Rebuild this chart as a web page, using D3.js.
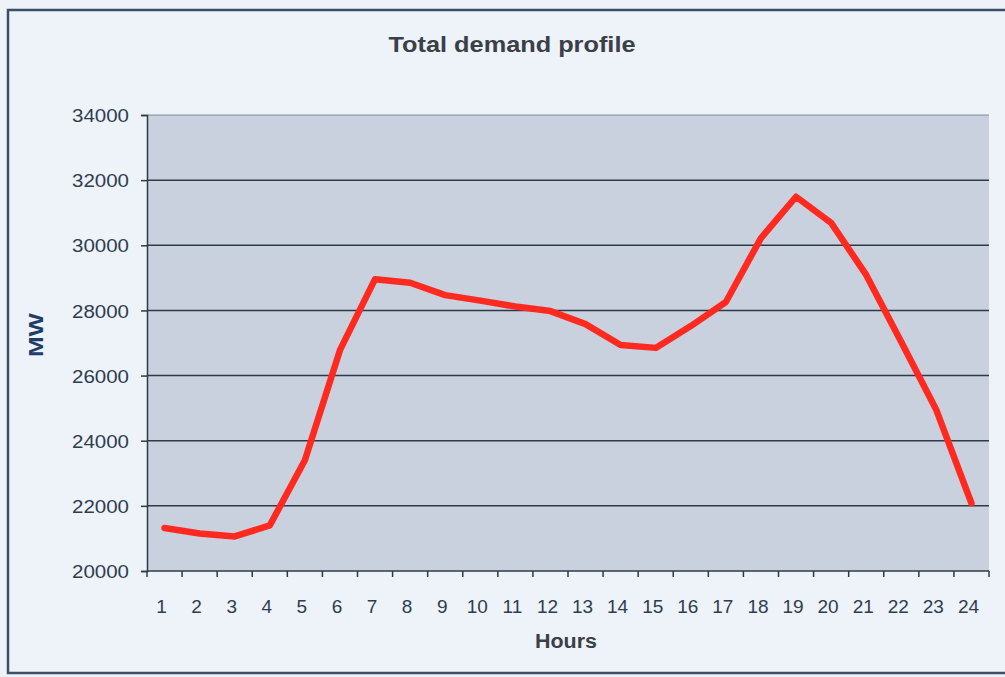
<!DOCTYPE html>
<html>
<head>
<meta charset="utf-8">
<script src="https://cdn.jsdelivr.net/npm/d3@7"></script>
<style>
  html, body { margin: 0; padding: 0; background: #eef2f9; }
  svg { display: block; font-family: "Liberation Sans", Arial, sans-serif; }
</style>
</head>
<body>
<div id="chart"></div>
<script>
const hours = d3.range(1, 25);
const demand = [21320, 21150, 21060, 21400, 23400, 26780, 28960, 28850, 28470, 28300, 28120, 27980,
  27580, 26940, 26850, 27520, 28260, 30220, 31490, 30690, 29090, 27030, 24940, 22080];
const yTicks = [20000, 22000, 24000, 26000, 28000, 30000, 32000, 34000];

const width = 1005, height = 677;
const margin = { top: 115, right: 16, bottom: 106, left: 147 };

const svg = d3.select("#chart").append("svg")
  .attr("width", width).attr("height", height)
  .attr("viewBox", [0, 0, width, height]);

// outer frame of the scanned chart
svg.append("path")
  .attr("d", `M${width},10 H8 V673 H${width}`)
  .attr("fill", "none").attr("stroke", "#3d4f66").attr("stroke-width", 2.5);

const x = d3.scaleBand().domain(hours).range([margin.left, width - margin.right]);
const y = d3.scaleLinear().domain([20000, 34000]).range([height - margin.bottom, margin.top]);

// plot background
svg.append("rect")
  .attr("x", x.range()[0]).attr("y", y(34000))
  .attr("width", x.range()[1] - x.range()[0]).attr("height", y(20000) - y(34000))
  .attr("fill", "#c9d1de");

// gridlines
svg.append("g")
  .selectAll("line")
  .data(yTicks.slice(1))
  .join("line")
  .attr("x1", x.range()[0]).attr("x2", x.range()[1])
  .attr("y1", (d) => y(d)).attr("y2", (d) => y(d))
  .attr("stroke", "#2f3a47").attr("stroke-width", 1.5)
  .attr("stroke-opacity", (d) => (d === 34000 ? 0.35 : 1));

// y axis
svg.append("g")
  .attr("transform", `translate(${margin.left},0)`)
  .call(d3.axisLeft(y).tickValues(yTicks).tickSize(6).tickPadding(12).tickFormat(d3.format("d")))
  .call((g) => g.select(".domain").attr("stroke", "#2f3a47").attr("stroke-width", 1.5))
  .call((g) => g.selectAll(".tick line").attr("stroke", "#2f3a47").attr("stroke-width", 1.5))
  .call((g) => g.selectAll(".tick text")
    .attr("font-size", 19).attr("fill", "#2e3d50").attr("dy", "0.35em")
    .attr("textLength", 57).attr("lengthAdjust", "spacingAndGlyphs"));

// x axis: ticks at band boundaries
const xAxisG = svg.append("g").attr("transform", `translate(0,${y(20000)})`);
xAxisG.append("line")
  .attr("x1", x.range()[0]).attr("x2", x.range()[1])
  .attr("stroke", "#2f3a47").attr("stroke-width", 1.5);
xAxisG.selectAll(".xtick")
  .data(hours.concat([25]))
  .join("line")
  .attr("class", "xtick")
  .attr("x1", (d) => (d === 25 ? x.range()[1] : x(d)))
  .attr("x2", (d) => (d === 25 ? x.range()[1] : x(d)))
  .attr("y1", 0).attr("y2", 6)
  .attr("stroke", "#2f3a47").attr("stroke-width", 1.5);
xAxisG.selectAll(".xlabel")
  .data(hours)
  .join("text")
  .attr("class", "xlabel")
  .attr("x", (d) => x(d) + x.bandwidth() / 2 - 3)
  .attr("y", 42)
  .attr("text-anchor", "middle")
  .attr("font-size", 19)
  .attr("fill", "#2e3d50")
  .text((d) => d);

// line
const line = d3.line()
  .x((d, i) => x(hours[i]) + x.bandwidth() / 2)
  .y((d) => y(d));

svg.append("path")
  .datum(demand)
  .attr("fill", "none")
  .attr("stroke", "#ff2a1f")
  .attr("stroke-width", 6.5)
  .attr("stroke-linejoin", "round")
  .attr("stroke-linecap", "round")
  .attr("d", line);

// title and axis titles
svg.append("text")
  .attr("x", 512).attr("y", 52)
  .attr("text-anchor", "middle")
  .attr("font-size", 22).attr("font-weight", "bold")
  .attr("fill", "#3a3f48")
  .attr("textLength", 247).attr("lengthAdjust", "spacingAndGlyphs")
  .text("Total demand profile");

svg.append("text")
  .attr("x", 566).attr("y", 648)
  .attr("text-anchor", "middle")
  .attr("font-size", 20).attr("font-weight", "bold")
  .attr("fill", "#3a3f48")
  .attr("textLength", 62).attr("lengthAdjust", "spacingAndGlyphs")
  .text("Hours");

svg.append("text")
  .attr("transform", "translate(43,335) rotate(-90)")
  .attr("text-anchor", "middle")
  .attr("font-size", 20).attr("font-weight", "bold")
  .attr("fill", "#1f3d66")
  .attr("textLength", 44).attr("lengthAdjust", "spacingAndGlyphs")
  .text("MW");
</script>
</body>
</html>
